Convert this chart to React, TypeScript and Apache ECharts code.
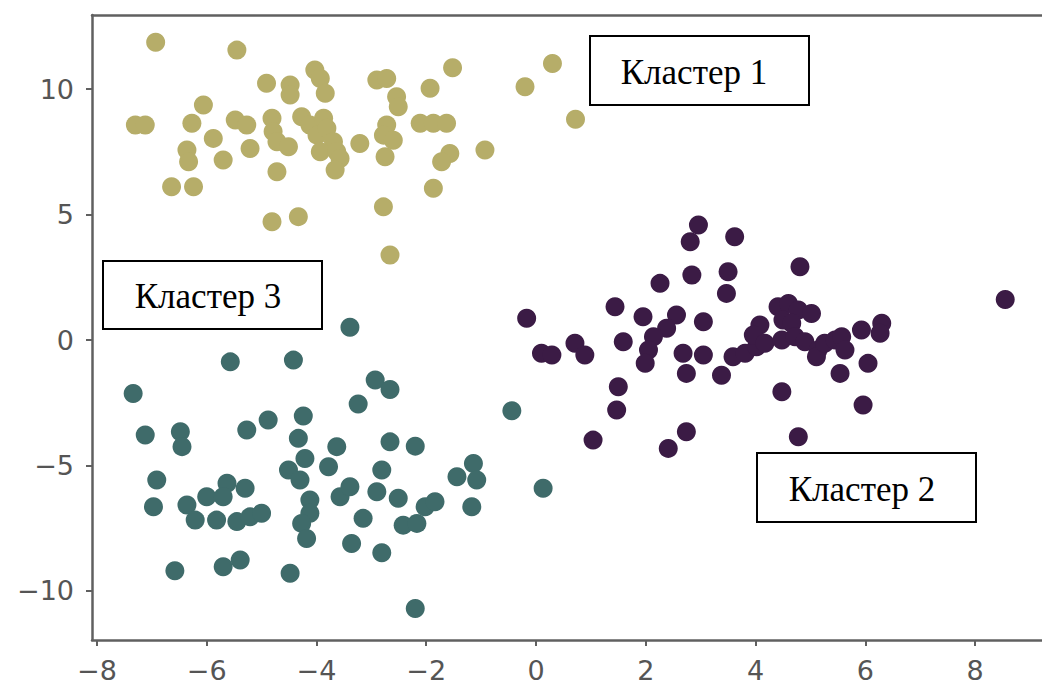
import React, { useEffect, useRef } from 'react';
import * as echarts from 'echarts';

// Кластер 1 (olive)
const cluster1: [number, number][] = [
  [-6.93, 11.87], [-5.45, 11.56], [-1.52, 10.86], [0.30, 11.03], [-0.20, 10.10], [0.72, 8.80],
  [-1.93, 10.04], [-2.90, 10.37], [-2.72, 10.43], [-2.54, 9.70], [-2.51, 9.30], [-4.91, 10.24],
  [-4.48, 10.17], [-4.48, 9.77], [-4.03, 10.77], [-3.93, 10.43], [-3.84, 9.84], [-7.30, 8.57],
  [-7.12, 8.57], [-6.06, 9.37], [-6.27, 8.64], [-5.88, 8.04], [-5.48, 8.77], [-5.27, 8.57],
  [-6.36, 7.58], [-6.33, 7.11], [-5.70, 7.18], [-5.21, 7.64], [-6.64, 6.11], [-6.24, 6.11],
  [-4.81, 8.84], [-4.79, 8.31], [-4.72, 7.91], [-4.51, 7.71], [-4.72, 6.71], [-4.27, 8.90],
  [-4.12, 8.57], [-3.87, 8.84], [-3.99, 8.17], [-3.81, 8.44], [-3.69, 7.91], [-3.93, 7.51],
  [-3.63, 7.51], [-3.57, 7.24], [-3.66, 6.78], [-3.21, 7.84], [-2.72, 8.57], [-2.78, 8.17],
  [-2.60, 7.97], [-2.75, 7.31], [-2.11, 8.64], [-1.87, 8.64], [-1.63, 8.64], [-1.57, 7.44],
  [-1.72, 7.11], [-0.93, 7.58], [-1.87, 6.05], [-2.78, 5.31], [-4.81, 4.72], [-4.33, 4.92],
  [-2.66, 3.39]
];

// Кластер 3 (teal)
const cluster3: [number, number][] = [
  [-3.39, 0.51], [-5.57, -0.87], [-4.42, -0.80], [-7.34, -2.13], [-2.93, -1.59], [-2.66, -1.97],
  [-3.24, -2.55], [-0.44, -2.82], [-7.12, -3.79], [-6.48, -3.66], [-6.45, -4.25], [-5.27, -3.59],
  [-4.88, -3.19], [-4.24, -3.03], [-4.33, -3.92], [-4.21, -4.72], [-4.51, -5.18], [-4.30, -5.58],
  [-3.63, -4.25], [-3.78, -5.05], [-2.66, -4.06], [-2.20, -4.23], [-2.81, -5.18], [-2.90, -6.05],
  [-2.51, -6.31], [-1.14, -4.92], [-1.44, -5.45], [-1.08, -5.58], [-1.17, -6.65], [-6.91, -5.58],
  [-6.97, -6.65], [-6.36, -6.58], [-6.21, -7.18], [-6.00, -6.25], [-5.63, -5.71], [-5.70, -6.25],
  [-5.30, -5.91], [-5.82, -7.18], [-5.45, -7.24], [-5.21, -7.05], [-5.00, -6.91], [-4.12, -6.38],
  [-4.12, -6.91], [-4.27, -7.31], [-4.18, -7.91], [-3.57, -6.25], [-3.39, -5.85], [-3.15, -7.11],
  [-3.36, -8.11], [-2.81, -8.48], [-2.42, -7.38], [-2.17, -7.31], [-2.02, -6.65], [-1.84, -6.45],
  [-6.58, -9.20], [-5.70, -9.04], [-5.39, -8.77], [-4.48, -9.30], [-2.20, -10.70], [0.13, -5.91]
];

// Кластер 2 (dark purple)
const cluster2: [number, number][] = [
  [2.96, 4.59], [2.81, 3.92], [3.62, 4.12], [2.84, 2.59], [3.50, 2.72], [3.47, 1.86],
  [4.81, 2.92], [2.26, 2.26], [8.55, 1.62], [-0.17, 0.87], [1.44, 1.33], [1.95, 0.93],
  [2.56, 1.00], [2.38, 0.47], [2.14, 0.13], [2.05, -0.40], [1.99, -0.93], [3.05, 0.73],
  [1.59, -0.07], [0.10, -0.53], [0.29, -0.60], [0.71, -0.13], [0.89, -0.60], [2.68, -0.53],
  [3.05, -0.60], [2.74, -1.33], [3.38, -1.40], [3.59, -0.67], [3.81, -0.53], [4.02, -0.27],
  [4.08, 0.60], [3.96, 0.20], [4.17, -0.13], [4.41, 1.33], [4.60, 1.46], [4.78, 1.20],
  [5.02, 1.06], [4.50, 0.80], [4.66, 0.67], [4.48, 0.00], [4.72, 0.13], [4.90, -0.07],
  [5.14, -0.40], [5.11, -0.67], [5.26, -0.13], [5.45, 0.00], [5.57, 0.13], [5.63, -0.40],
  [5.54, -1.33], [5.93, 0.40], [6.30, 0.67], [6.27, 0.27], [6.05, -0.93], [4.48, -2.06],
  [5.96, -2.59], [1.50, -1.86], [1.47, -2.79], [1.04, -3.99], [2.74, -3.66], [2.41, -4.32],
  [4.78, -3.86]
];

const xTicks = [-8, -6, -4, -2, 0, 2, 4, 6, 8];
const yTicks = [-10, -5, 0, 5, 10];
const labels = ['Кластер 1', 'Кластер 2', 'Кластер 3'];

const X_MIN = -8.09;
const X_MAX = 9.22;
const Y_MIN = -11.96;
const Y_MAX = 12.96;

const fmt = (v: number) => (v < 0 ? '\u2212' + Math.abs(v) : String(v));

const axisColor = '#606060';

function box(x: number, y: number, w: number, h: number, tx: number, ty: number, text: string) {
  return {
    type: 'group',
    children: [
      {
        type: 'rect',
        shape: { x, y, width: w, height: h },
        style: { fill: '#ffffff', stroke: '#000000', lineWidth: 2 },
        z: 100,
      },
      {
        type: 'text',
        x: tx,
        y: ty,
        style: {
          text,
          fontSize: 35,
          fontFamily: '"Liberation Serif", "Times New Roman", serif',
          fill: '#000000',
          textAlign: 'center',
          textVerticalAlign: 'middle',
          verticalAlign: 'middle',
        },
        z: 101,
      },
    ],
  };
}

export default function App() {
  const ref = useRef<HTMLDivElement>(null);
  useEffect(() => {
    const chart = echarts.init(ref.current!, null, { renderer: 'svg' });
    const scatter = (data: [number, number][], color: string) => ({
      type: 'scatter',
      data,
      symbolSize: 19,
      itemStyle: { color, opacity: 1 },
      emphasis: { disabled: true },
    });
    chart.setOption({
      animation: false,
      backgroundColor: '#ffffff',
      grid: { left: 92, top: 15, right: 0, bottom: 46, containLabel: false },
      xAxis: [
        {
          type: 'value',
          min: X_MIN,
          max: X_MAX,
          splitLine: { show: false },
          axisLine: { show: true, onZero: false, lineStyle: { color: axisColor, width: 2.5 } },
          axisTick: { show: true, customValues: xTicks, length: 6, lineStyle: { color: axisColor, width: 2 } },
          axisLabel: {
            customValues: xTicks,
            formatter: fmt,
            color: '#555555',
            fontSize: 27,
            fontFamily: '"DejaVu Sans", sans-serif',
            margin: 17,
          },
        },
        {
          type: 'value',
          position: 'top',
          min: X_MIN,
          max: X_MAX,
          splitLine: { show: false },
          axisLine: { show: true, onZero: false, lineStyle: { color: axisColor, width: 2.5 } },
          axisTick: { show: false },
          axisLabel: { show: false },
        },
      ],
      yAxis: {
        type: 'value',
        min: Y_MIN,
        max: Y_MAX,
        splitLine: { show: false },
        axisLine: { show: true, onZero: false, lineStyle: { color: axisColor, width: 2.5 } },
        axisTick: { show: true, customValues: yTicks, length: 6, lineStyle: { color: axisColor, width: 2 } },
        axisLabel: {
          customValues: yTicks,
          formatter: fmt,
          color: '#555555',
          fontSize: 27,
          fontFamily: '"DejaVu Sans", sans-serif',
          margin: 18,
        },
      },
      series: [
        scatter(cluster2, '#3b1b45'),
        scatter(cluster3, '#3f6b6a'),
        scatter(cluster1, '#b6ad69'),
      ],
      graphic: [
        box(590, 36, 219, 69, 694, 72, labels[0]),
        box(757, 453, 219, 69, 862, 489, labels[1]),
        box(103, 261, 219, 68, 208, 296, labels[2]),
      ],
    });
    return () => chart.dispose();
  }, []);
  return (
    <div
      ref={ref}
      style={{ position: 'fixed', left: 0, top: 0, width: 1042, height: 686, background: '#ffffff' }}
    />
  );
}
